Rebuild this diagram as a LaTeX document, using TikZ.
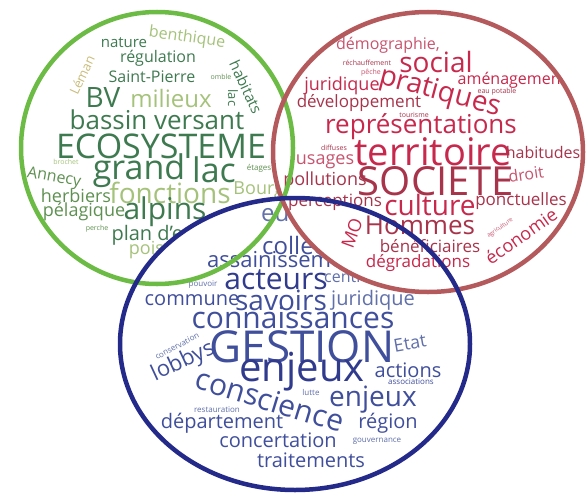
\documentclass[tikz,border=0pt]{standalone}
\usepackage{fontspec}
\setmainfont{Open Sans}
\usepackage{xcolor}
\usetikzlibrary{positioning}
\definecolor{ringg}{HTML}{6CBB45}
\definecolor{ringr}{HTML}{B55A5C}
\definecolor{ringb}{HTML}{242A8A}
\definecolor{gd}{HTML}{3E7A50}
\definecolor{gm}{HTML}{5E9050}
\definecolor{gl}{HTML}{A5C27A}
\definecolor{go}{HTML}{C9BC7A}
\definecolor{rc}{HTML}{C8284C}
\definecolor{rd}{HTML}{A8344C}
\definecolor{rp}{HTML}{C85470}
\definecolor{bc}{HTML}{404F9C}
\definecolor{bd}{HTML}{303B8E}
\definecolor{bl}{HTML}{6070AA}
\tikzset{
  cword/.style={inner sep=0pt, font=\fontsize{#1}{#1}\selectfont},
  ring/.style={line width=4.5pt}
}

\begin{document}
\begin{tikzpicture}[x=1pt,y=-1pt]
  \useasboundingbox (0,0) rectangle (586,495);
  \coordinate (cg) at (157,148);
  \coordinate (cr) at (428,152);
  \coordinate (cb) at (295,344);
  % green cloud: ecosysteme
  \begin{scope}
    \clip (cg) circle [x radius=136pt, y radius=136pt];
    \foreach \x/\y/\s/\c/\r/\t [count=\i] in {187/38/16/gl/-8/benthique, 124/43/15/gd/0/nature,
        82/75/13/go/65/Léman, 158/58/16/gd/0/régulation, 152/77/16/gd/0/Saint-Pierre,
        221/77/7/gm/0/omble, 246/87/15/gd/-65/habitats, 233/98/13/gd/-90/lac,
        103/98/28/gd/0/BV, 171/98/24/gl/0/milieux, 157/120/26/gd/0/bassin versant,
        161/146/34/gd/0/ECOSYSTEME, 139/171/34/gd/0/grand, 214/170/34/gd/0/lac,
        66/162/7/gl/0/brochet, 54/178/16/gm/-10/Annecy, 170/193/28/gl/0/fonctions,
        76/196/18/gm/0/herbiers, 84/212/18/gm/0/pélagique, 165/212/30/gd/0/alpins,
        97/229/7/gm/0/perche, 159/235/20/gd/0/plan d'eau, 166/250/18/gl/0/poissons,
        267/190/18/gl/0/Bourget, 259/168/8/gm/0/étages}{
      \node[cword=\s, text=\c, rotate=\r] (g\i) at (\x,\y) {\t};}
  \end{scope}
  % blue cloud: gestion
  \begin{scope}
    \fill[white] (cb) circle [x radius=175pt, y radius=146pt];
    \clip (cb) circle [x radius=175pt, y radius=146pt];
    \foreach \x/\y/\s/\c/\t [count=\i] in {261/215/24/bl/européen, 262/245/24/bc/collectivités,
        207/260/22/bc/assainissement, 324/277/16/bl/centres}{
      \node[cword=\s, text=\c, anchor=west] (bw\i) at (\x,\y) {\t};}
    \foreach \x/\y/\s/\c/\r/\t [count=\i] in {203/285/8/bl/0/pouvoir, 276/280/30/bd/0/acteurs,
        192/300/20/bc/0/commune, 281/300/28/bc/0/savoirs, 373/300/20/bl/0/juridique,
        293/318/30/bc/0/connaissances, 177/346/8/bl/28/conservation, 302/347/44/bc/0/GESTION,
        410/343/18/bl/10/Etat, 183/362/22/bc/25/lobbys, 302/372/40/bd/0/enjeux,
        408/370/20/bc/0/actions, 411/382/8/bc/0/associations, 270/400/30/bc/-17/conscience,
        311/392/8/bl/0/lutte, 373/400/28/bc/0/enjeux, 217/410/8/bl/0/restauration,
        388/423/20/bc/0/région, 222/423/20/bc/0/département, 278/440/20/bc/0/concertation,
        377/441/8/bl/0/gouvernance, 311/460/20/bc/0/traitements}{
      \node[cword=\s, text=\c, rotate=\r] (b\i) at (\x,\y) {\t};}
  \end{scope}
  % red cloud: societe
  \begin{scope}
    \fill[white] (cr) circle [x radius=155pt, y radius=140pt];
    \clip (cr) circle [x radius=155pt, y radius=140pt];
    \foreach \x/\y/\s/\c/\r/\t [count=\i] in {388/45/16/rp/0/{démographie,}, 367/63/7/rd/0/réchauffement,
        436/62/28/rc/0/social, 371/73/7/rp/0/pêche, 440/93/28/rc/-15/pratiques,
        512/80/16/rc/0/aménagement, 497/92/7/rd/0/eau potable, 342/86/18/rc/0/juridique,
        359/103/17/rd/0/développement, 414/115/7/rd/0/tourisme, 421/127/26/rc/0/représentations,
        334/148/7/rd/0/diffuses, 433/152/38/rc/0/territoire, 325/162/18/rp/0/usages,
        543/152/16/rd/0/habitudes, 325/181/18/rd/0/pollutions, 436/181/40/rd/0/SOCIETE,
        526/174/16/rp/8/droit, 335/202/17/rd/0/perceptions, 430/205/28/rc/0/culture,
        521/201/17/rd/0/ponctuelles, 420/225/26/rd/0/Hommes, 352/233/18/rc/70/MO,
        500/228/6/rp/35/agriculture, 521/236/18/rc/35/économie, 430/246/17/rd/0/bénéficiaires,
        418/263/17/rc/0/dégradations}{
      \node[cword=\s, text=\c, rotate=\r] (r\i) at (\x,\y) {\t};}
  \end{scope}
  % rings on top
  \draw[ring, ringg] (cg) circle [x radius=136pt, y radius=136pt];
  \draw[ring, ringr] (cr) circle [x radius=155pt, y radius=140pt];
  \draw[ring, ringb] (cb) circle [x radius=175pt, y radius=146pt];
\end{tikzpicture}
\end{document}
